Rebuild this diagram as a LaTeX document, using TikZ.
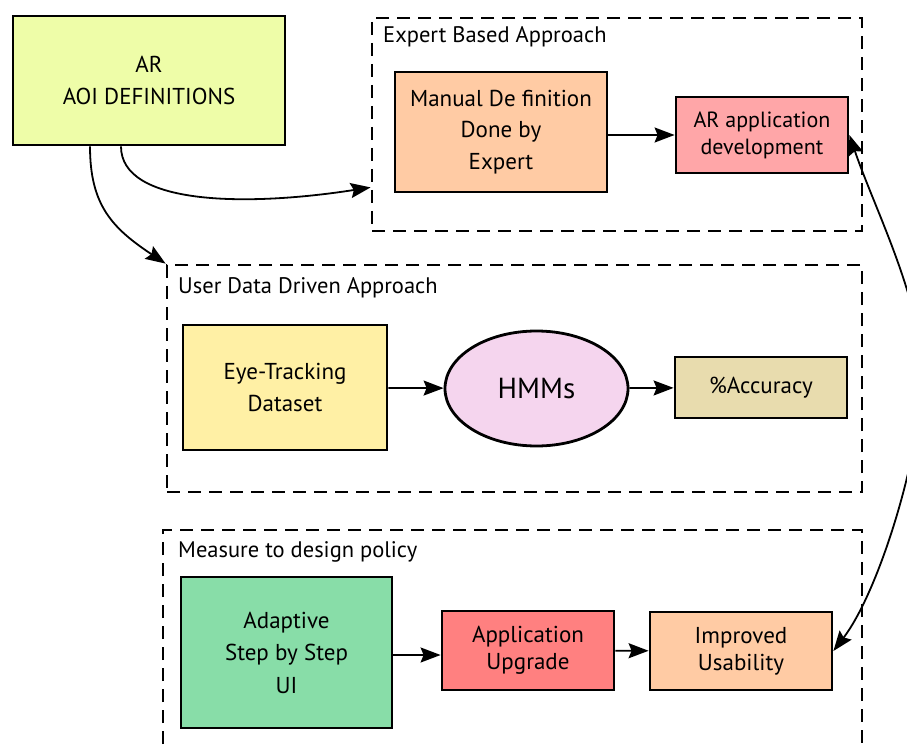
\documentclass[tikz,border=0pt]{standalone}
\usepackage{fontspec}
\setmainfont{PT Sans}
\usetikzlibrary{arrows.meta,shapes.geometric}
\definecolor{caoi}{HTML}{EEFDA8}
\definecolor{cman}{HTML}{FFCBA4}
\definecolor{capp}{HTML}{FFA6A8}
\definecolor{ceye}{HTML}{FFF0A5}
\definecolor{chmm}{HTML}{F5D5EE}
\definecolor{cacc}{HTML}{E8DCAE}
\definecolor{cada}{HTML}{88DDA8}
\definecolor{cupg}{HTML}{FF8080}
\definecolor{cimp}{HTML}{FFCBA4}
\begin{document}
\begin{tikzpicture}[x=1pt,y=-1pt,
  box/.style={draw,line width=2.8pt,inner sep=0pt,align=center,font=\fontsize{23}{31.5}\selectfont},
  grp/.style={draw,line width=2.8pt,dash pattern=on 13pt off 8pt,inner sep=0pt},
  grplabel/.style={anchor=base west,inner sep=0pt,font=\fontsize{22.5}{26}\selectfont},
  conn/.style={line width=1.8pt,-{Stealth[length=20pt,width=15pt,inset=3pt]}},
  conntwo/.style={line width=1.8pt,{Stealth[length=20pt,width=15pt,inset=3pt]}-{Stealth[length=20pt,width=15pt,inset=3pt]}},
]
\useasboundingbox (0,0) rectangle (907,751);
\fill[white] (0,0) rectangle (907,751);

% groups
\node[grp,minimum width=490pt,minimum height=213pt] (exp) at (617,124.5) {};
\node[grplabel] (explab) at (383,43) {Expert Based Approach};
\node[grp,minimum width=695pt,minimum height=227pt] (ud) at (514.5,378.5) {};
\node[grplabel] (udlab) at (178,293) {User Data Driven Approach};
\draw[grp] (163,765) -- (163,530) -- (862,530) -- (862,765);
\node[grplabel] (mslab) at (178,557) {Measure to design policy};

% boxes
\node[box,fill=caoi,minimum width=272pt,minimum height=129pt] (aoi) at (149,80.5) {AR\\AOI DEFINITIONS};
\node[box,fill=cman,minimum width=212pt,minimum height=120pt] (man) at (501,132) {Manual De finition\\Done by\\Expert};
\node[box,fill=capp,minimum width=172pt,minimum height=76pt,font=\fontsize{22}{27}\selectfont] (app) at (762,135) {AR application\\development};
\node[box,fill=ceye,minimum width=204pt,minimum height=125pt] (eye) at (285,387.5) {Eye-Tracking\\Dataset};
\node[box,ellipse,fill=chmm,minimum width=183pt,minimum height=115pt,font=\fontsize{29}{32}\selectfont] (hmm) at (536.5,388.5) {HMMs};
\node[box,fill=cacc,minimum width=172pt,minimum height=61pt] (acc) at (761,387.5) {\%Accuracy};
\node[box,fill=cada,minimum width=211pt,minimum height=151pt,font=\fontsize{23}{32.5}\selectfont] (ada) at (286.5,652.5) {Adaptive\\Step by Step\\UI};
\node[box,fill=cupg,minimum width=172pt,minimum height=79pt,font=\fontsize{23}{27}\selectfont] (upg) at (528,650.5) {Application\\Upgrade};
\node[box,fill=cimp,minimum width=182pt,minimum height=78pt,font=\fontsize{23}{27}\selectfont] (imp) at (741,651) {Improved\\Usability};

% connectors
\draw[conn] (man.east |- app.west) -- (app.west);
\draw[conn] (eye) -- (hmm);
\draw[conn] (hmm) -- (acc);
\draw[conn] (ada.east |- 0,655) -- (upg.west |- 0,655);
\draw[conn] (upg) -- (imp);
\coordinate (expin) at ([yshift=45pt]exp.south west);
\draw[conn] ([xshift=-28pt]aoi.south) .. controls (121,205) and (245,207) .. (expin);
\draw[conn] ([xshift=-59pt]aoi.south) .. controls (90,205) and (112,228) .. (ud.north west);
\coordinate (rmid) at (922,375);
\draw[conntwo] (app.east) .. controls (875,210) and (922,300) .. (rmid) .. controls (922,450) and (880,590) .. (imp.east);
\end{tikzpicture}
\end{document}
